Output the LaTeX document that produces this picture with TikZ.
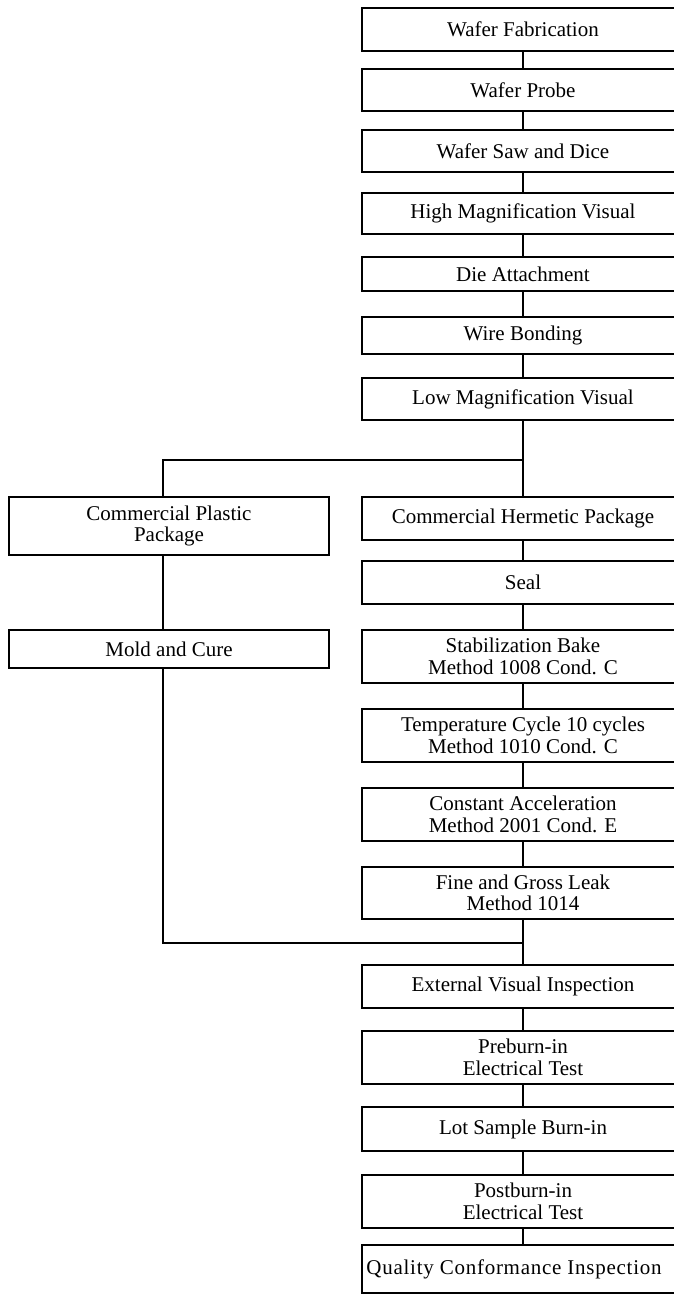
\documentclass[tikz,border=0pt]{standalone}
\usepackage{fontspec}
\setmainfont{Liberation Serif}
\begin{document}
\begin{tikzpicture}[x=1pt,y=-1pt,
  box/.style={draw=black, line width=2.1pt, rectangle, inner sep=0pt,
    align=center, font=\fontsize{21}{21.5}\selectfont},
  rbox/.style={box, minimum width=322pt},
  lbox/.style={box, minimum width=320pt},
  conn/.style={draw=black, line width=2.1pt}]
\useasboundingbox (0,0) rectangle (674,1294);
\clip (0,0) rectangle (674,1294);
% right column
\node[rbox, minimum height=43pt] (n1) at (523,29.5) {Wafer Fabrication};
\node[rbox, minimum height=42pt] (n2) at (523,90) {Wafer Probe};
\node[rbox, minimum height=42pt] (n3) at (523,151) {Wafer Saw and Dice};
\node[rbox, minimum height=41pt] (n4) at (523,213.5) {High Magnification Visual};
\node[rbox, minimum height=34pt] (n5) at (523,274) {Die Attachment};
\node[rbox, minimum height=37pt] (n6) at (523,335.5) {Wire Bonding};
\node[rbox, minimum height=42pt] (n7) at (523,399) {Low Magnification Visual};
\node[rbox, minimum height=43pt] (n8) at (523,518.5) {Commercial Hermetic Package};
\node[rbox, minimum height=43pt] (n9) at (523,582.5) {Seal};
\node[rbox, minimum height=53pt] (n10) at (523,656.5) {Stabilization Bake\\Method 1008 Cond. C};
\node[rbox, minimum height=53pt] (n11) at (523,735.5) {Temperature Cycle 10 cycles\\Method 1010 Cond. C};
\node[rbox, minimum height=53pt] (n12) at (523,814.5) {Constant Acceleration\\Method 2001 Cond. E};
\node[rbox, minimum height=52pt] (n13) at (523,893) {Fine and Gross Leak\\Method 1014};
\node[rbox, minimum height=43pt] (n14) at (523,986.5) {External Visual Inspection};
\node[rbox, minimum height=53pt] (n15) at (523,1057.5) {Preburn-in\\Electrical Test};
\node[rbox, minimum height=44pt] (n16) at (523,1129) {Lot Sample Burn-in};
\node[rbox, minimum height=53pt] (n17) at (523,1201.5) {Postburn-in\\Electrical Test};
\node[rbox, minimum height=48pt] (n18) at (523,1269) {\addfontfeature{LetterSpace=3.5}Quality Conformance Inspection\hspace*{18pt}};
% left column
\node[lbox, minimum height=58pt] (p1) at (169,526) {Commercial Plastic\\Package};
\node[lbox, minimum height=38pt] (p2) at (169,649) {Mold and Cure};
% connectors
\foreach \a/\b in {n1/n2,n2/n3,n3/n4,n4/n5,n5/n6,n6/n7,n7/n8,n8/n9,n9/n10,n10/n11,n11/n12,n12/n13,n13/n14,n14/n15,n15/n16,n16/n17,n17/n18}
  \draw[conn] (\a.south) -- (\b.north);
\coordinate (b1) at (523,460);
\coordinate (b2) at (163,460);
\coordinate (m1) at (163,943);
\coordinate (m2) at (523,943);
\draw[conn] (b1) -- (b2) -- (b2 |- p1.north);
\draw[conn] (b2 |- p1.south) -- (b2 |- p2.north);
\draw[conn] (b2 |- p2.south) -- (m1) -- (m2);
\end{tikzpicture}
\end{document}
